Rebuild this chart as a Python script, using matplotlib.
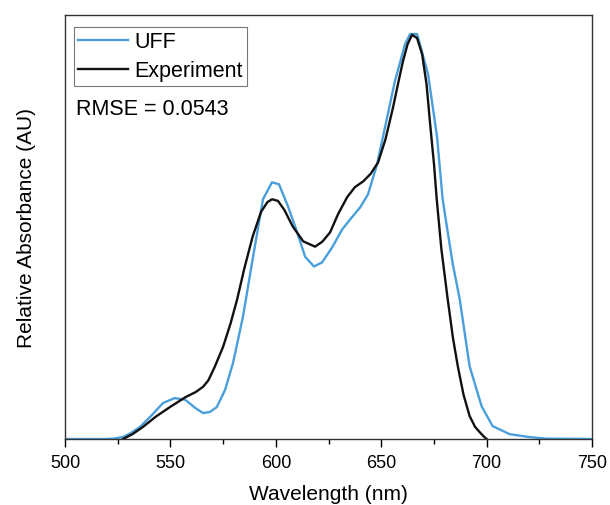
import matplotlib
matplotlib.use('Agg')
import matplotlib.pyplot as plt
from matplotlib.ticker import MultipleLocator

plt.rcParams['font.family'] = ['Liberation Sans', 'DejaVu Sans']

# UFF (calculated) spectrum
uff_x = [500, 510, 520, 523, 527.5, 531, 535.6, 541, 546.5, 552, 557, 561.7, 565.5, 568.8,
         572, 575.9, 579.7, 584.4, 589.2, 593.9, 598.2, 601.5, 605.8, 610, 613.9, 618.1,
         621.9, 626.7, 631.4, 635.2, 640, 643.7, 648, 651.8, 656.5, 661.3, 663.7, 667,
         672.2, 676.5, 679.1, 681.2, 684, 687.2, 691.9, 697.6, 702.8, 710.9, 720, 728, 750]
uff_y = [0.0, 0.0, 0.0, 0.001, 0.005, 0.014, 0.03, 0.058, 0.089, 0.101, 0.097, 0.077, 0.064, 0.067,
         0.079, 0.121, 0.188, 0.302, 0.45, 0.592, 0.634, 0.629, 0.574, 0.512, 0.45, 0.426,
         0.436, 0.473, 0.517, 0.542, 0.572, 0.604, 0.678, 0.77, 0.884, 0.975, 1.0, 1.0,
         0.901, 0.745, 0.593, 0.522, 0.43, 0.346, 0.18, 0.081, 0.032, 0.012, 0.005, 0.001, 0.0]

# Experimental spectrum
exp_x = [527.5, 532, 537, 543, 549.8, 557, 562, 565.5, 568, 571, 575, 578.5, 581.6, 585, 589, 593,
         596, 598.2, 601, 604, 608, 613, 618.6, 622, 625.7, 629.5, 633.8, 637.5, 641.4,
         645, 648.5, 652, 655.6, 658, 660.3, 662.5, 664.6, 667, 669.4, 671.5, 673.2, 675,
         676.3, 678.5, 681.5, 684, 686.3, 689, 691.9, 694.5, 696.7, 698.5, 700]
exp_y = [0.0, 0.012, 0.03, 0.055, 0.079, 0.103, 0.116, 0.129, 0.145, 0.178, 0.228, 0.285, 0.344, 0.42,
         0.5, 0.561, 0.585, 0.592, 0.588, 0.566, 0.525, 0.488, 0.475, 0.487, 0.51, 0.555, 0.597,
         0.622, 0.636, 0.655, 0.683, 0.74, 0.819, 0.878, 0.933, 0.975, 0.998, 0.99, 0.95, 0.875,
         0.777, 0.68, 0.593, 0.47, 0.346, 0.25, 0.18, 0.11, 0.057, 0.03, 0.017, 0.007, 0.0]

fig = plt.figure(figsize=(6.1, 5.06), dpi=100)
ax = fig.add_axes([0.1066, 0.1304, 0.864, 0.838])

ax.plot(uff_x, uff_y, color='#4a9fdb', lw=1.7, label='UFF')
ax.plot(exp_x, exp_y, color='#111111', lw=1.7, label='Experiment')

ax.set_xlim(500, 750)
ax.set_ylim(0, 1.047)
ax.xaxis.set_major_locator(MultipleLocator(50))
ax.xaxis.set_minor_locator(MultipleLocator(25))
ax.tick_params(axis='x', which='major', direction='out', length=6, width=1, labelsize=13, pad=5)
ax.tick_params(axis='x', which='minor', direction='out', length=3.5, width=1)
ax.set_yticks([])
for s in ax.spines.values():
    s.set_linewidth(1.0)
    s.set_color('#333333')

ax.set_xlabel('Wavelength (nm)', fontsize=15, labelpad=9)
ax.set_ylabel('Relative Absorbance (AU)', fontsize=15, labelpad=21)

leg = ax.legend(loc='upper left', bbox_to_anchor=(0.017, 0.972), borderaxespad=0,
                fontsize=15.5, frameon=True, fancybox=False,
                handlelength=2.3, handletextpad=0.3, borderpad=0.2, labelspacing=0.38)
leg.get_frame().set_edgecolor('#555555')
leg.get_frame().set_linewidth(0.8)

ax.text(0.021, 0.7665, 'RMSE = 0.0543', transform=ax.transAxes, fontsize=15.5,
        ha='left', va='baseline')

fig.savefig('out.png', dpi=100)
